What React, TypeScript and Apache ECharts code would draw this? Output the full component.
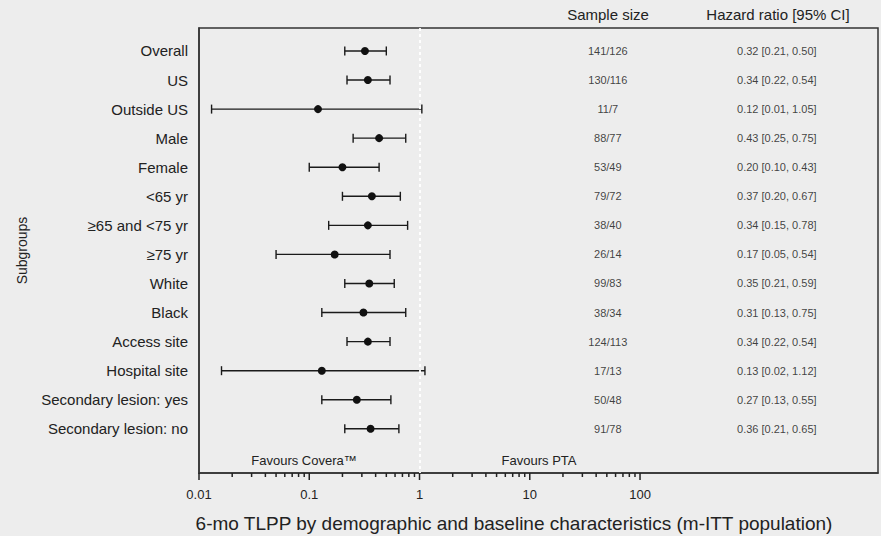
import React, { useEffect, useRef } from "react";
import * as echarts from "echarts";

const subgroups = [
  "Overall",
  "US",
  "Outside US",
  "Male",
  "Female",
  "<65 yr",
  "≥65 and <75 yr",
  "≥75 yr",
  "White",
  "Black",
  "Access site",
  "Hospital site",
  "Secondary lesion: yes",
  "Secondary lesion: no",
];
const sampleSizes = [
  "141/126", "130/116", "11/7", "88/77", "53/49", "79/72", "38/40",
  "26/14", "99/83", "38/34", "124/113", "17/13", "50/48", "91/78",
];
const hazardRatio = [0.32, 0.34, 0.12, 0.43, 0.2, 0.37, 0.34, 0.17, 0.35, 0.31, 0.34, 0.13, 0.27, 0.36];
const ciLower = [0.21, 0.22, 0.013, 0.25, 0.1, 0.2, 0.15, 0.05, 0.21, 0.13, 0.22, 0.016, 0.13, 0.21];
const ciUpper = [0.5, 0.54, 1.05, 0.75, 0.43, 0.67, 0.78, 0.54, 0.59, 0.75, 0.54, 1.12, 0.55, 0.65];
const majorTicks = [0.01, 0.1, 1, 10, 100];
const minorTicks = [
  0.02, 0.03, 0.04, 0.05, 0.06, 0.07, 0.08, 0.09,
  0.2, 0.3, 0.4, 0.5, 0.6, 0.7, 0.8, 0.9,
  2, 3, 4, 5, 6, 7, 8, 9,
  20, 30, 40, 50, 60, 70, 80, 90,
];

const FONT = "'Liberation Sans', Arial, Helvetica, sans-serif";
const X_MIN = 0.01;
const X_MAX = 14400;
const Y_MIN = -0.79;
const Y_MAX = 14.52;
const SAMPLE_COL_X = 51;
const HR_COL_X = 1740;

const hrText = (i: number) =>
  `${hazardRatio[i].toFixed(2)} [${ciLower[i].toFixed(2)}, ${ciUpper[i].toFixed(2)}]`;

export default function App() {
  const ref = useRef<HTMLDivElement>(null);
  useEffect(() => {
    if (!ref.current) return;
    const chart = echarts.init(ref.current, undefined, { renderer: "svg" });
    const lineStyle = { stroke: "#1a1a1a", lineWidth: 1.4 };
    const tickData = [
      ...majorTicks.map((v) => [v, 1, Y_MAX]),
      ...minorTicks.map((v) => [v, 0, Y_MAX]),
    ];
    const option: any = {
      animation: false,
      backgroundColor: "#ededed",
      textStyle: { fontFamily: FONT },
      grid: {
        left: 199,
        right: 3,
        top: 28,
        bottom: 63,
        show: true,
        borderColor: "#333",
        borderWidth: 1.5,
        backgroundColor: "transparent",
      },
      xAxis: {
        type: "log",
        min: X_MIN,
        max: X_MAX,
        logBase: 10,
        position: "bottom",
        axisLine: { show: true, onZero: false, lineStyle: { color: "#333", width: 1.5 } },
        axisTick: { show: false },
        axisLabel: {
          customValues: majorTicks,
          margin: 15,
          fontSize: 13,
          color: "#222",
          fontFamily: FONT,
          formatter: (v: number) => (v >= 1 ? String(Math.round(v)) : String(+v.toPrecision(1))),
        },
        splitLine: { show: false },
      },
      yAxis: {
        type: "value",
        inverse: true,
        min: Y_MIN,
        max: Y_MAX,
        name: "Subgroups",
        nameLocation: "middle",
        nameGap: 170,
        nameTextStyle: { fontSize: 14, color: "#222", fontFamily: FONT },
        axisLine: { show: true, onZero: false, lineStyle: { color: "#333", width: 1.5 } },
        axisTick: { show: false },
        splitLine: { show: false },
        axisLabel: {
          customValues: subgroups.map((_, i) => i),
          margin: 11,
          fontSize: 15,
          color: "#222",
          fontFamily: FONT,
          formatter: (v: number) => subgroups[Math.round(v)] ?? "",
        },
      },
      graphic: [
        {
          type: "text",
          x: 608,
          y: 14,
          style: { text: "Sample size", fill: "#222", font: `15px ${FONT}`, align: "center", verticalAlign: "middle" },
        },
        {
          type: "text",
          x: 778,
          y: 14,
          style: { text: "Hazard ratio [95% CI]", fill: "#222", font: `15px ${FONT}`, align: "center", verticalAlign: "middle" },
        },
        {
          type: "text",
          x: 304,
          y: 460,
          style: { text: "Favours Covera™", fill: "#222", font: `13px ${FONT}`, align: "center", verticalAlign: "middle" },
        },
        {
          type: "text",
          x: 539,
          y: 460,
          style: { text: "Favours PTA", fill: "#222", font: `13px ${FONT}`, align: "center", verticalAlign: "middle" },
        },
        {
          type: "text",
          x: 514,
          y: 523,
          style: {
            text: "6-mo TLPP by demographic and baseline characteristics (m-ITT population)",
            fill: "#222",
            font: `19px ${FONT}`,
            align: "center",
            verticalAlign: "middle",
          },
        },
      ],
      series: [
        {
          type: "custom",
          name: "Axis ticks",
          clip: false,
          encode: { x: 0, y: 2 },
          data: tickData,
          renderItem: (params: any, api: any) => {
            const p = api.coord([api.value(0), api.value(2)]);
            const len = api.value(1) ? 7 : 4;
            return {
              type: "line",
              shape: { x1: p[0], y1: p[1], x2: p[0], y2: p[1] + len },
              style: { stroke: "#222", lineWidth: 1.5 },
            };
          },
          z: 5,
        },
        {
          type: "custom",
          name: "CI",
          encode: { x: [1, 2], y: 0 },
          data: subgroups.map((_, i) => [i, ciLower[i], ciUpper[i]]),
          renderItem: (params: any, api: any) => {
            const y = api.value(0);
            const a = api.coord([api.value(1), y]);
            const b = api.coord([api.value(2), y]);
            const h = 4.5;
            return {
              type: "group",
              children: [
                { type: "line", shape: { x1: a[0], y1: a[1], x2: b[0], y2: b[1] }, style: lineStyle },
                { type: "line", shape: { x1: a[0], y1: a[1] - h, x2: a[0], y2: a[1] + h }, style: lineStyle },
                { type: "line", shape: { x1: b[0], y1: b[1] - h, x2: b[0], y2: b[1] + h }, style: lineStyle },
              ],
            };
          },
          z: 2,
        },
        {
          type: "scatter",
          name: "Hazard ratio",
          data: hazardRatio.map((v, i) => [v, i]),
          symbol: "circle",
          symbolSize: 8,
          itemStyle: { color: "#111", opacity: 1 },
          z: 3,
          markLine: {
            silent: true,
            symbol: ["none", "none"],
            label: { show: false },
            lineStyle: { color: "#ffffff", type: [3, 3], width: 2, opacity: 0.9 },
            data: [{ xAxis: 1 }],
          },
        },
        {
          type: "scatter",
          name: "Sample size",
          data: sampleSizes.map((_, i) => [SAMPLE_COL_X, i]),
          symbolSize: 1,
          itemStyle: { color: "transparent" },
          silent: true,
          label: {
            show: true,
            position: "inside",
            fontSize: 11,
            color: "#111",
            fontFamily: FONT,
            formatter: (p: any) => sampleSizes[p.dataIndex],
          },
        },
        {
          type: "scatter",
          name: "HR text",
          data: hazardRatio.map((_, i) => [HR_COL_X, i]),
          symbolSize: 1,
          itemStyle: { color: "transparent" },
          silent: true,
          label: {
            show: true,
            position: "inside",
            fontSize: 11,
            color: "#111",
            fontFamily: FONT,
            formatter: (p: any) => hrText(p.dataIndex),
          },
        },
      ],
    };
    chart.setOption(option);
    return () => chart.dispose();
  }, []);
  return (
    <div
      ref={ref}
      style={{ position: "fixed", left: 0, top: 0, width: 881, height: 536, background: "#ededed" }}
    />
  );
}
